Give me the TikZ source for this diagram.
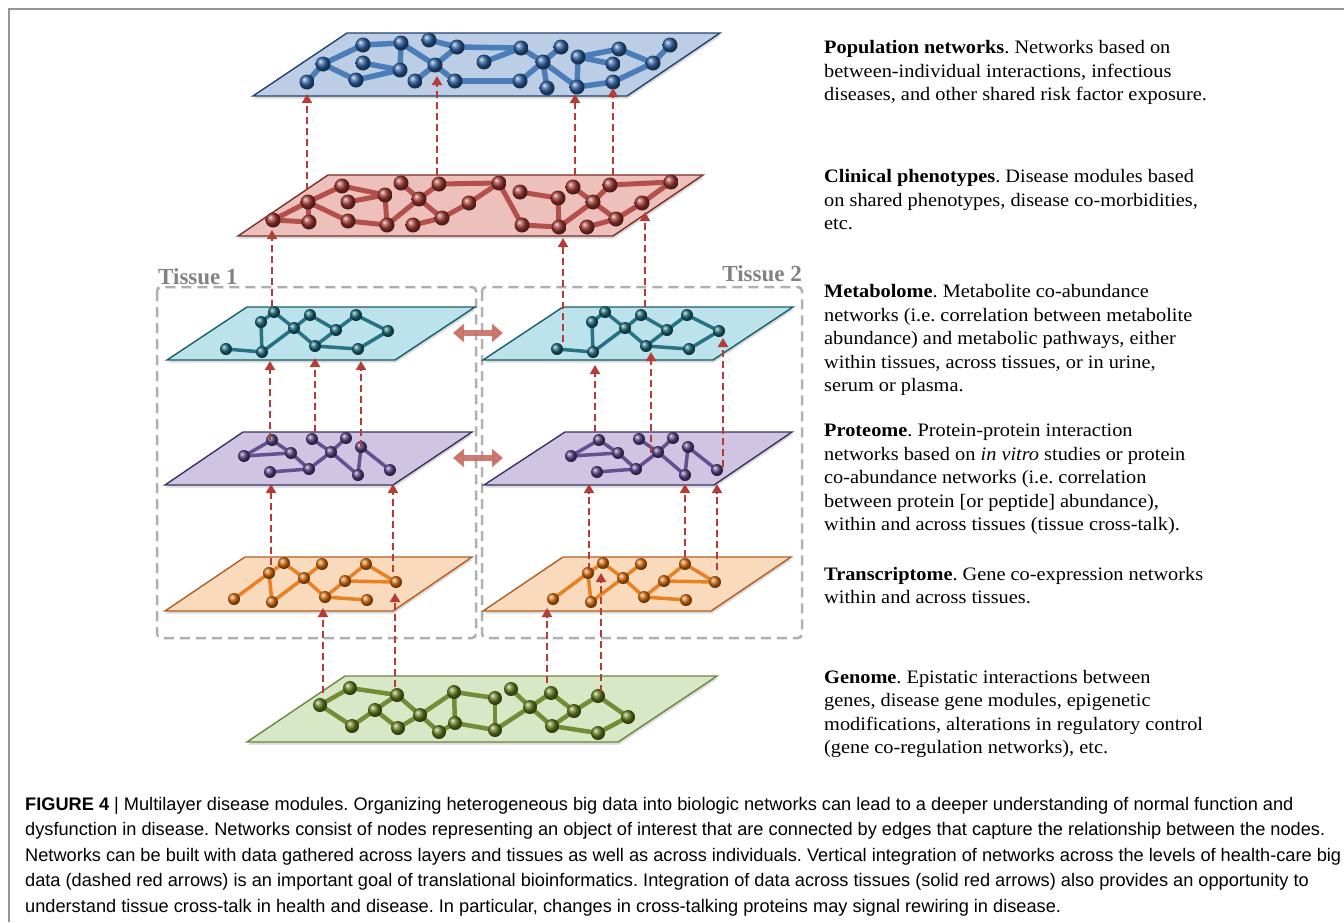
\documentclass[tikz,border=0pt]{standalone}
\usepackage{fontspec}
\setmainfont[FakeStretch=1.07]{Liberation Serif}
\newfontfamily\capfont{Liberation Sans}
\newfontfamily\labelfont{Liberation Serif}
\usetikzlibrary{arrows.meta,shadows}
\definecolor{popfill}{RGB}{188,206,230}
\definecolor{popedge}{RGB}{35,65,110}
\definecolor{popln}{RGB}{75,125,185}
\definecolor{popball}{RGB}{45,95,160}
\definecolor{clinfill}{RGB}{238,192,188}
\definecolor{clinedge}{RGB}{125,45,40}
\definecolor{clinln}{RGB}{180,80,75}
\definecolor{clinball}{RGB}{160,55,50}
\definecolor{metfill}{RGB}{188,226,236}
\definecolor{metedge}{RGB}{25,95,105}
\definecolor{metln}{RGB}{40,115,130}
\definecolor{metball}{RGB}{25,105,120}
\definecolor{protfill}{RGB}{207,197,226}
\definecolor{protedge}{RGB}{60,50,95}
\definecolor{protln}{RGB}{100,80,145}
\definecolor{protball}{RGB}{85,65,130}
\definecolor{transfill}{RGB}{250,218,188}
\definecolor{transedge}{RGB}{175,95,35}
\definecolor{transln}{RGB}{230,130,35}
\definecolor{transball}{RGB}{215,110,15}
\definecolor{genfill}{RGB}{216,231,197}
\definecolor{genedge}{RGB}{105,135,65}
\definecolor{genln}{RGB}{115,140,55}
\definecolor{genball}{RGB}{100,125,30}
\definecolor{arrowred}{RGB}{180,60,55}
\definecolor{crossred}{RGB}{200,110,100}
\definecolor{tissuegray}{RGB}{175,175,175}
\definecolor{labelgray}{RGB}{130,130,130}
\definecolor{framegray}{RGB}{150,150,150}
\tikzset{
    plane/.style={line width=1.4pt, drop shadow={opacity=0.3, shadow xshift=1pt, shadow yshift=-2.5pt}},
    poplink/.style={draw=popln, line width=5.5pt},
    clinlink/.style={draw=clinln, line width=5pt},
    metlink/.style={draw=metln, line width=3.5pt},
    protlink/.style={draw=protln, line width=3.5pt},
    translink/.style={draw=transln, line width=3.5pt},
    genlink/.style={draw=genln, line width=4.5pt},
    vint/.style={draw=arrowred, line width=1.8pt, dash pattern=on 7pt off 4pt, -{Triangle[length=9pt,width=10pt]}},
    xtalk/.style={draw=crossred, line width=6pt, opacity=0.9, {Triangle[length=11pt,width=18pt]}-{Triangle[length=11pt,width=18pt]}},
    tissuebox/.style={draw=tissuegray, line width=2.5pt, dash pattern=on 10pt off 6pt, rounded corners=4pt},
    tissuelabel/.style={text=labelgray, inner sep=0pt, font=\labelfont\fontsize{23}{26}\selectfont\bfseries},
    desc/.style={align=left, anchor=north west, inner sep=0pt, font=\fontsize{19}{23.5}\selectfont},
    capt/.style={align=left, anchor=north west, inner sep=0pt, font=\capfont\fontsize{18.2}{25.5}\selectfont},
}
% tissue-level networks, drawn once per tissue
\newcommand{\metanet}[1]{%
    \foreach \n/\x/\y in {a/226/349, b/262/352, c/261/322, d/274/312, e/294/328, f/310/315,
                          g/315/346, h/336/330, i/356/315, j/358/349, k/388/331}
        \coordinate (#1\n) at (\x,\y);
    \foreach \u/\v in {a/b, b/c, c/d, d/e, b/e, e/f, f/h, e/g, g/h, h/i, i/k, g/j, j/k}
        \draw[metlink] (#1\u) -- (#1\v);
    \foreach \n in {a,...,k}
        \shade[ball color=metball] (#1\n) circle (6pt);
}
\newcommand{\protnet}[1]{%
    \foreach \n/\x/\y in {a/244/456, b/272/440, c/291/453, d/309/469, e/270/472, f/312/439,
                          g/331/452, h/346/438, i/361/447, j/358/475, k/390/470}
        \coordinate (#1\n) at (\x,\y);
    \foreach \u/\v in {a/b, a/c, b/c, c/d, e/d, d/g, f/g, g/h, g/j, j/i, i/k}
        \draw[protlink] (#1\u) -- (#1\v);
    \foreach \n in {a,...,k}
        \shade[ball color=protball] (#1\n) circle (6pt);
}
\newcommand{\transnet}[1]{%
    \foreach \n/\x/\y in {a/234/599, b/269/573, c/284/563, d/272/602, e/304/578, f/322/564,
                          g/325/597, h/345/581, i/366/564, j/396/582, k/367/600}
        \coordinate (#1\n) at (\x,\y);
    \foreach \u/\v in {a/b, b/c, b/d, c/e, d/e, e/f, e/g, g/h, h/i, i/j, h/j, g/k}
        \draw[translink] (#1\u) -- (#1\v);
    \foreach \n in {a,...,k}
        \shade[ball color=transball] (#1\n) circle (6pt);
}
\frenchspacing

\begin{document}
\begin{tikzpicture}[x=1pt, y=-1pt]
    \useasboundingbox (0,0) rectangle (1344,922);
    \draw[framegray, line width=2pt] (1344,9) -- (9,9) -- (9,922);

    % tissue frames
    \draw[tissuebox] (157,287) rectangle (476,638);
    \draw[tissuebox] (482,287) rectangle (802,638);
    \node[tissuelabel, anchor=base west] (tis1) at (158,284) {Tissue 1};
    \node[tissuelabel, anchor=base east] (tis2) at (802,281) {Tissue 2};

    % population layer
    \filldraw[plane, draw=popedge, fill=popfill] (347,33) -- (720,33) -- (627,96) -- (253,96) -- cycle;
    \foreach \n/\x/\y in {a/307/82, b/323/64, c/363/45, d/401/43, e/363/63, f/400/70, g/356/80,
                          h/429/40, i/457/47, j/435/65, k/415/81, l/455/81, m/484/62, n/521/48,
                          o/561/47, p/543/62, q/520/81, r/547/88, s/577/87, t/578/57, u/619/49,
                          v/613/64, w/613/82, x/653/63, y/670/45}
        \coordinate (P\n) at (\x,\y);
    \foreach \u/\v in {a/b, b/c, c/d, b/g, g/f, e/f, d/f, d/j, h/i, i/j, j/k, j/l, i/n, n/m,
                       l/q, n/p, o/p, p/q, p/r, p/s, s/t, t/u, t/v, s/w, w/x, u/x, x/y}
        \draw[poplink] (P\u) -- (P\v);
    \foreach \n in {a,...,y}
        \shade[ball color=popball] (P\n) circle (7.5pt);

    % clinical layer
    \filldraw[plane, draw=clinedge, fill=clinfill] (328,175) -- (703,175) -- (613,236) -- (238,236) -- cycle;
    \foreach \n/\x/\y in {a/273/220, b/308/202, c/309/222, d/342/186, e/348/202, f/385/195,
                          g/348/221, h/387/225, i/401/183, j/419/199, k/439/184, l/413/225,
                          m/442/218, n/469/203, o/499/183, p/520/192, q/558/198, r/522/225,
                          s/559/227, t/573/187, u/593/202, v/610/185, w/616/219, x/587/227,
                          y/642/203, z/671/182}
        \coordinate (C\n) at (\x,\y);
    \foreach \u/\v in {a/b, a/c, b/c, b/d, b/g, d/f, e/f, f/h, g/h, h/j, i/j, j/k, j/m, l/m,
                       m/n, n/o, k/o, o/r, r/s, p/q, q/s, s/u, t/u, u/v, u/w, w/x, w/y, y/z, v/z}
        \draw[clinlink] (C\u) -- (C\v);
    \foreach \n in {a,...,z}
        \shade[ball color=clinball] (C\n) circle (7.5pt);

    % metabolome
    \filldraw[plane, draw=metedge, fill=metfill] (247,307) -- (475,307) -- (395,360) -- (167,360) -- cycle;
    \filldraw[plane, draw=metedge, fill=metfill] (563,307) -- (793,307) -- (713,360) -- (483,360) -- cycle;
    \metanet{Ma}
    \begin{scope}[xshift=331pt]
        \metanet{Mb}
    \end{scope}

    % proteome
    \filldraw[plane, draw=protedge, fill=protfill] (243,432) -- (472,432) -- (393,485) -- (165,485) -- cycle;
    \filldraw[plane, draw=protedge, fill=protfill] (565,432) -- (792,432) -- (714,485) -- (484,485) -- cycle;
    \protnet{Ra}
    \begin{scope}[xshift=327pt]
        \protnet{Rb}
    \end{scope}

    % transcriptome
    \filldraw[plane, draw=transedge, fill=transfill] (245,557) -- (472,557) -- (393,611) -- (165,611) -- cycle;
    \filldraw[plane, draw=transedge, fill=transfill] (563,557) -- (791,557) -- (711,611) -- (483,611) -- cycle;
    \transnet{Ta}
    \begin{scope}[xshift=319pt]
        \transnet{Tb}
    \end{scope}

    % genome
    \filldraw[plane, draw=genedge, fill=genfill] (345,676) -- (717,676) -- (618,742) -- (247,742) -- cycle;
    \foreach \n/\x/\y in {a/320/705, b/350/688, c/352/726, d/375/710, e/397/695, f/398/728,
                          g/420/715, h/439/732, i/454/692, j/455/723, k/495/698, l/495/730,
                          m/511/689, n/530/707, o/551/693, p/552/726, q/574/711, r/598/696,
                          s/628/717, t/598/733}
        \coordinate (G\n) at (\x,\y);
    \foreach \u/\v in {a/b, a/c, c/d, d/e, b/e, d/f, f/g, e/g, g/h, g/i, h/j, i/j, i/k, j/l,
                       k/l, l/n, m/n, n/o, n/p, o/q, p/q, q/r, r/s, s/t, p/t}
        \draw[genlink] (G\u) -- (G\v);
    \foreach \n in {a,...,t}
        \shade[ball color=genball] (G\n) circle (7pt);

    % vertical integration (dashed)
    \foreach \i/\x/\a/\b in {1/307/190/94, 2/437/175/76, 3/575/175/94, 4/613/175/88,
                             5/272/307/230, 6/563/342/238, 7/645/307/212,
                             8/270/440/361, 9/315/432/358, 10/361/447/361,
                             11/595/432/365, 12/651/453/352, 13/723/467/338,
                             14/271/565/484, 15/393/572/484, 16/589/570/484, 17/685/557/484, 18/717/570/484,
                             19/323/693/608, 20/395/687/593, 21/547/683/608, 22/601/692/573} {
        \coordinate (vt\i) at (\x,\a);
        \coordinate (vh\i) at (\x,\b);
        \draw[vint] (vt\i) -- (vh\i);
    }

    % cross-talk between tissues
    \coordinate (xl1) at (453,333);
    \coordinate (xr1) at (503,333);
    \coordinate (xl2) at (453,458);
    \coordinate (xr2) at (503,458);
    \draw[xtalk] (xl1) -- (xr1);
    \draw[xtalk] (xl2) -- (xr2);

    % layer descriptions
    \node[desc] (poptxt) at (824,40.3) {\textbf{Population networks}. Networks based on\\
        between-individual interactions, infectious\\diseases, and other shared risk factor exposure.};
    \node[desc] (clintxt) at (824,169.3) {\textbf{Clinical phenotypes}. Disease modules based\\
        on shared phenotypes, disease co-morbidities,\\etc.};
    \node[desc] (mettxt) at (824,284.3) {\textbf{Metabolome}. Metabolite co-abundance\\
        networks (i.e. correlation between metabolite\\abundance) and metabolic pathways, either\\
        within tissues, across tissues, or in urine,\\serum or plasma.};
    \node[desc] (prottxt) at (824,424) {\textbf{Proteome}. Protein-protein interaction\\
        networks based on \textit{in vitro} studies or protein\\co-abundance networks (i.e. correlation\\
        between protein [or peptide] abundance),\\within and across tissues (tissue cross-talk).};
    \node[desc] (transtxt) at (824,567) {\textbf{Transcriptome}. Gene co-expression networks\\
        within and across tissues.};
    \node[desc] (gentxt) at (824,670) {\textbf{Genome}. Epistatic interactions between\\
        genes, disease gene modules, epigenetic\\modifications, alterations in regulatory control\\
        (gene co-regulation networks), etc.};

    % caption
    \node[capt] (caption) at (25,797) {\textbf{FIGURE 4} | Multilayer disease modules. Organizing heterogeneous big data into biologic networks can lead to a deeper understanding of normal function and\\
        dysfunction in disease. Networks consist of nodes representing an object of interest that are connected by edges that capture the relationship between the nodes.\\
        Networks can be built with data gathered across layers and tissues as well as across individuals. Vertical integration of networks across the levels of health-care big\\
        data (dashed red arrows) is an important goal of translational bioinformatics. Integration of data across tissues (solid red arrows) also provides an opportunity to\\
        understand tissue cross-talk in health and disease. In particular, changes in cross-talking proteins may signal rewiring in disease.};
\end{tikzpicture}
\end{document}
